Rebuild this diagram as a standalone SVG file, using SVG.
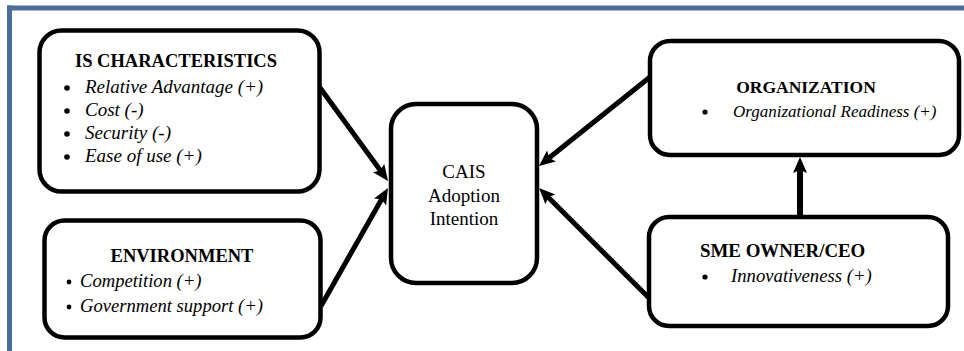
<svg xmlns="http://www.w3.org/2000/svg" width="964" height="351" viewBox="0 0 964 351">
<style>
.box{fill:#fff;stroke:#000;stroke-width:4.5}
.t{font-family:"Liberation Serif","Times New Roman",serif;fill:#000}
.h{font-weight:bold;font-size:18.5px}
.i{font-style:italic;font-size:19px}
.c{font-size:19px;text-anchor:middle}
.con{stroke:#000;stroke-width:5;fill:none}
</style>
<defs>
<marker id="ah" markerUnits="userSpaceOnUse" markerWidth="18" markerHeight="16" refX="8" refY="7" orient="auto">
<path d="M0,0 L16,7 L0,14 L3,7 Z" fill="#000"/>
</marker>
</defs>
<rect width="964" height="351" fill="#fff"/>
<g id="frame" stroke="#4a6d9c" stroke-width="5" fill="none">
<line x1="7" y1="8" x2="964" y2="8"/>
<line x1="9.5" y1="5.5" x2="9.5" y2="351"/>
</g>
<g id="connectors">
<line class="con" x1="318" y1="85" x2="383.3" y2="174.5" marker-end="url(#ah)"/>
<line class="con" x1="321" y1="306" x2="384" y2="195" marker-end="url(#ah)"/>
<line class="con" x1="650" y1="77" x2="545.2" y2="161" marker-end="url(#ah)"/>
<line class="con" x1="649" y1="298" x2="544.7" y2="193.7" marker-end="url(#ah)"/>
<line class="con" x1="800" y1="215" x2="800" y2="165" style="stroke-width:6px" marker-end="url(#ah)"/>
</g>
<g id="is-characteristics">
<rect class="box" x="39.5" y="30.5" width="280" height="161" rx="22"/>
<text class="t h" x="176" y="67" text-anchor="middle">IS CHARACTERISTICS</text>
<circle cx="67" cy="88" r="2.8"/><circle cx="67" cy="111" r="2.8"/><circle cx="67" cy="134" r="2.8"/><circle cx="67" cy="157" r="2.8"/>
<text class="t i" x="85" y="93">Relative Advantage (+)</text>
<text class="t i" x="85" y="116">Cost (-)</text>
<text class="t i" x="85" y="139">Security (-)</text>
<text class="t i" x="85" y="162">Ease of use (+)</text>
</g>
<g id="environment">
<rect class="box" x="44.5" y="220.5" width="276" height="117" rx="20"/>
<text class="t h" x="182" y="262" text-anchor="middle">ENVIRONMENT</text>
<circle cx="69" cy="282" r="2.4"/><circle cx="69" cy="307" r="2.4"/>
<text class="t i" x="80" y="287" style="font-size:18.6px">Competition (+)</text>
<text class="t i" x="80" y="312" style="font-size:18.6px">Government support (+)</text>
</g>
<g id="cais">
<rect class="box" x="391" y="104" width="146" height="179" rx="25"/>
<text class="t c" x="464" y="178">CAIS</text>
<text class="t c" x="464" y="202">Adoption</text>
<text class="t c" x="464" y="225">Intention</text>
</g>
<g id="organization">
<rect class="box" x="650" y="41" width="309" height="114" rx="20"/>
<text class="t h" x="806" y="93" text-anchor="middle" style="font-size:17.5px">ORGANIZATION</text>
<circle cx="705" cy="112" r="2.6"/>
<text class="t i" x="733" y="117" style="font-size:17px">Organizational Readiness (+)</text>
</g>
<g id="sme-owner">
<rect class="box" x="649" y="217" width="299" height="109" rx="20"/>
<text class="t h" x="700" y="257" style="font-size:18.9px">SME OWNER/CEO</text>
<circle cx="705" cy="277" r="2.6"/>
<text class="t i" x="731" y="282" style="font-size:18.7px">Innovativeness (+)</text>
</g>
</svg>
